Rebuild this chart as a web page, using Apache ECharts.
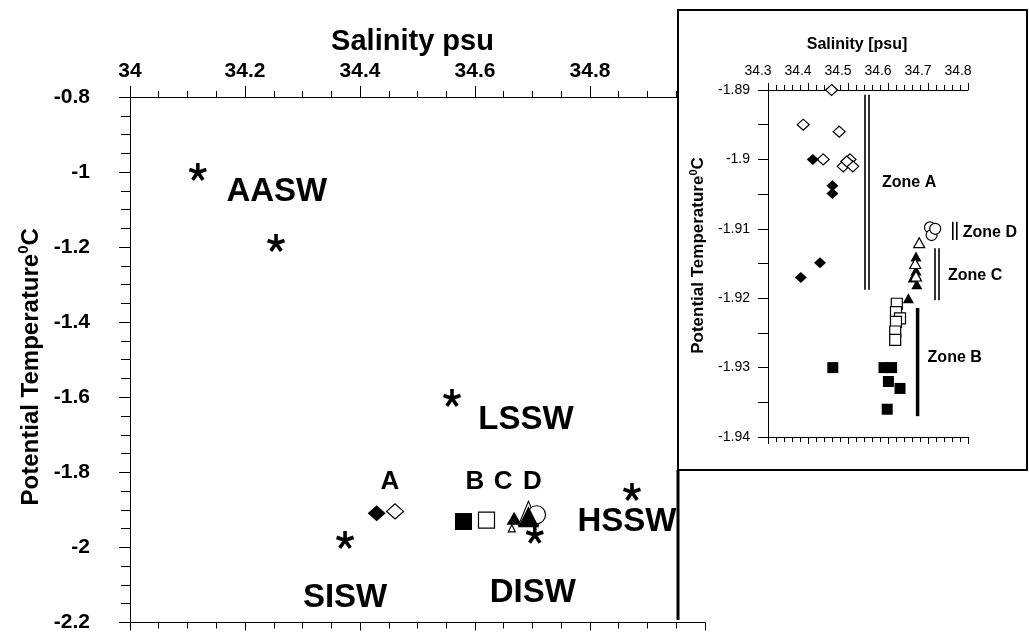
<!DOCTYPE html>
<html>
<head>
<meta charset="utf-8">
<script src="https://cdn.jsdelivr.net/npm/echarts@6/dist/echarts.min.js"></script>
<style>
  html, body { margin: 0; padding: 0; background: #fff; }
  #chart { width: 1029px; height: 633px; }
</style>
</head>
<body>
<div id="chart"></div>
<script>
// ---------- Main panel: theta-S of the water masses ----------
const waterMassNames = ['AASW', '', 'LSSW', 'SISW', 'DISW', 'HSSW'];
const waterMassSalinity = [34.118, 34.254, 34.56, 34.374, 34.704, 34.873];
const waterMassTemp = [-1.0, -1.189, -1.602, -1.98, -1.966, -1.852];

// zone means plotted in the main panel
const meanAFilled = [[34.429, -1.909]];
const meanAOpen = [[34.461, -1.904]];
const meanBFilled = [[34.580, -1.931]];
const meanBOpen = [[34.620, -1.927]];
const meanCFilled = [[34.668, -1.922]];
const meanCOpenSmall = [[34.664, -1.949]];
const meanDOpenTri = [[34.693, -1.909]];
const meanDFilledTri = [[34.693, -1.918]];
const meanDCircle = [[34.707, -1.913]];

const zoneLetters = ['A', 'B', 'C', 'D'];
const zoneLetterSalinity = [34.452, 34.600, 34.649, 34.700];
const zoneLetterTemp = -1.825;

// ---------- Inset: individual samples by zone ----------
const insetAFilled = [[34.412, -1.900], [34.461, -1.9038], [34.461, -1.9049], [34.430, -1.9149], [34.382, -1.917]];
const insetAOpen = [[34.459, -1.890], [34.388, -1.895], [34.478, -1.896], [34.438, -1.900],
                    [34.488, -1.901], [34.505, -1.900], [34.512, -1.901], [34.497, -1.9003]];
const insetBFilled = [[34.462, -1.930], [34.590, -1.930], [34.609, -1.930], [34.601, -1.932], [34.630, -1.933], [34.598, -1.936]];
const insetBOpen = [[34.622, -1.9208], [34.620, -1.922], [34.630, -1.9229], [34.620, -1.9234], [34.618, -1.9248], [34.618, -1.926]];
const insetCFilled = [[34.670, -1.914], [34.668, -1.9165], [34.670, -1.916], [34.663, -1.917], [34.672, -1.918], [34.651, -1.920]];
const insetCOpen = [[34.678, -1.912], [34.668, -1.915], [34.670, -1.9168]];
const insetDOpen = [[34.705, -1.9098], [34.709, -1.9109], [34.718, -1.9100]];

// zone brackets in the inset (salinity, top temp, bottom temp, label temp)
const zoneNames = ['Zone A', 'Zone B', 'Zone C', 'Zone D'];
const zoneLineSalinity = [34.5475, 34.674, 34.7225, 34.767];
const zoneLineTop = [-1.8907, -1.9214, -1.9128, -1.909];
const zoneLineBottom = [-1.9188, -1.937, -1.9203, -1.9116];
const zoneLabelTemp = [-1.9034, -1.9285, -1.9167, -1.9106];

// ---------- layout ----------
const FONT = '"Liberation Sans", Arial, Helvetica, sans-serif';
const wmLabelOffset = [[79, 20], [0, 0], [74, 22], [0, 58], [-2, 58], [-5, 30]];
const zoneDouble = [true, false, true, true];
const zoneLabelGap = [15, 10, 11, 8];

function asteriskPath() {
  const r = 50, hw = 10, parts = [];
  for (let k = 0; k < 5; k++) {
    const t = k * 72 * Math.PI / 180;
    const dx = Math.sin(t), dy = -Math.cos(t), px = Math.cos(t), py = Math.sin(t);
    const pts = [
      [50 + px * hw, 50 + py * hw],
      [50 + px * hw + dx * r, 50 + py * hw + dy * r],
      [50 - px * hw + dx * r, 50 - py * hw + dy * r],
      [50 - px * hw, 50 - py * hw]
    ];
    parts.push('M' + pts.map(p => p[0].toFixed(2) + ' ' + p[1].toFixed(2)).join(' L') + ' Z');
  }
  return 'path://' + parts.join(' ');
}
const ASTERISK = asteriskPath();

const black = '#000';
const filled = { color: black, opacity: 1 };
const open = { color: '#fff', borderColor: black, borderWidth: 1.2, opacity: 1 };

function scatter(data, symbol, size, style, xi, yi, z) {
  return { type: 'scatter', xAxisIndex: xi, yAxisIndex: yi, data: data, symbol: symbol,
           symbolSize: size, itemStyle: style, z: z, silent: true, animation: false };
}

const axisLineBlack = { show: true, lineStyle: { color: black, width: 1 } };

const option = {
  animation: false,
  backgroundColor: '#fff',
  textStyle: { fontFamily: FONT },
  grid: [
    { left: 130, top: 97, width: 575, height: 526 },
    { left: 768, top: 90, width: 200, height: 347, z: 6 }
  ],
  graphic: [
    { type: 'rect', z: 5, shape: { x: 678, y: 10, width: 349, height: 460 },
      style: { fill: '#fff', stroke: black, lineWidth: 2 } },
    { type: 'line', z: 5, shape: { x1: 678, y1: 470, x2: 678, y2: 620 },
      style: { stroke: black, lineWidth: 3 } }
  ],
  xAxis: [
    { // main, top
      gridIndex: 0, type: 'value', position: 'top', min: 34, max: 35, interval: 0.2,
      name: 'Salinity psu', nameLocation: 'middle', nameGap: 40,
      nameTextStyle: { fontSize: 29, fontWeight: 'bold', color: black, fontFamily: FONT, padding: [0, 10, 0, 0] },
      axisLine: axisLineBlack,
      axisTick: { show: true, inside: false, length: 11, lineStyle: { color: black } },
      minorTick: { show: true, splitNumber: 4, length: 6, lineStyle: { color: black } },
      axisLabel: { fontSize: 21, fontWeight: 'bold', color: black, margin: 15, fontFamily: FONT },
      splitLine: { show: false }, minorSplitLine: { show: false }
    },
    { // main, bottom
      gridIndex: 0, type: 'value', position: 'bottom', min: 34, max: 35, interval: 0.2,
      axisLine: axisLineBlack,
      axisTick: { show: true, inside: false, length: 8, lineStyle: { color: black } },
      minorTick: { show: true, splitNumber: 4, length: 6, lineStyle: { color: black } },
      axisLabel: { show: false },
      splitLine: { show: false }
    },
    { // inset, top
      gridIndex: 1, type: 'value', position: 'top', min: 34.3, max: 34.8, interval: 0.1, z: 6,
      name: 'Salinity [psu]', nameLocation: 'middle', nameGap: 37,
      nameTextStyle: { fontSize: 16, fontWeight: 'bold', color: black, fontFamily: FONT, padding: [0, 22, 0, 0] },
      axisLine: axisLineBlack,
      axisTick: { show: true, inside: false, length: 7, lineStyle: { color: black } },
      minorTick: { show: true, splitNumber: 5, length: 5, lineStyle: { color: black } },
      axisLabel: { fontSize: 14, color: black, margin: 12, fontFamily: FONT, padding: [0, 20, 0, 0] },
      splitLine: { show: false }
    },
    { // inset, bottom
      gridIndex: 1, type: 'value', position: 'bottom', min: 34.3, max: 34.8, interval: 0.1, z: 6,
      axisLine: axisLineBlack,
      axisTick: { show: true, inside: false, length: 7, lineStyle: { color: black } },
      minorTick: { show: true, splitNumber: 5, length: 5, lineStyle: { color: black } },
      axisLabel: { show: false },
      splitLine: { show: false }
    }
  ],
  yAxis: [
    { // main
      gridIndex: 0, type: 'value', min: -2.2, max: -0.8, interval: 0.2,
      name: 'Potential Temperature{sup|0}C', nameLocation: 'middle', nameGap: 80, nameRotate: 90,
      nameTextStyle: {
        fontSize: 24, fontWeight: 'bold', color: black, fontFamily: FONT, padding: [0, 14, 0, 0],
        rich: { sup: { fontSize: 15, fontWeight: 'bold', color: black, fontFamily: FONT, padding: [0, 0, 14, 0] } }
      },
      axisLine: axisLineBlack,
      axisTick: { show: true, inside: false, length: 11, lineStyle: { color: black } },
      minorTick: { show: true, splitNumber: 4, length: 9, lineStyle: { color: black } },
      axisLabel: { fontSize: 21, fontWeight: 'bold', color: black, margin: 40, fontFamily: FONT },
      splitLine: { show: false }
    },
    { // inset
      gridIndex: 1, type: 'value', min: -1.94, max: -1.89, interval: 0.01, z: 6,
      name: 'Potential Temperature{sup|0}C', nameLocation: 'middle', nameGap: 59, nameRotate: 90,
      nameTextStyle: {
        fontSize: 17, fontWeight: 'bold', color: black, fontFamily: FONT, padding: [0, 0, 0, 16],
        rich: { sup: { fontSize: 11, fontWeight: 'bold', color: black, fontFamily: FONT, padding: [0, 0, 10, 0] } }
      },
      axisLine: axisLineBlack,
      axisTick: { show: true, inside: false, length: 10, lineStyle: { color: black } },
      minorTick: { show: true, splitNumber: 2, length: 10, lineStyle: { color: black } },
      axisLabel: { fontSize: 14, color: black, margin: 18, fontFamily: FONT },
      splitLine: { show: false }
    }
  ],
  series: [
    // water masses with asterisks and names
    {
      type: 'scatter', xAxisIndex: 0, yAxisIndex: 0, z: 2, silent: true,
      symbol: ASTERISK, symbolSize: 18, itemStyle: { color: black, opacity: 1 },
      data: waterMassNames.map((n, i) => ({
        name: n, value: [waterMassSalinity[i], waterMassTemp[i]],
        label: { offset: wmLabelOffset[i] }
      })),
      label: {
        show: true, position: 'inside', formatter: p => p.name,
        fontSize: 33, fontWeight: 'bold', color: black, fontFamily: FONT
      }
    },
    // zone letters above the means
    {
      type: 'scatter', xAxisIndex: 0, yAxisIndex: 0, z: 2, silent: true,
      symbol: 'circle', symbolSize: 0, itemStyle: { opacity: 1 },
      data: zoneLetters.map((n, i) => ({ name: n, value: [zoneLetterSalinity[i], zoneLetterTemp] })),
      label: {
        show: true, position: 'inside', formatter: p => p.name,
        fontSize: 26, fontWeight: 'bold', color: black, fontFamily: FONT
      }
    },
    scatter(meanAFilled, 'diamond', [18, 16], filled, 0, 0, 3),
    scatter(meanAOpen, 'diamond', [17, 15], open, 0, 0, 3),
    scatter(meanBFilled, 'rect', [17, 17], filled, 0, 0, 3),
    scatter(meanBOpen, 'rect', [16, 16], open, 0, 0, 3),
    scatter(meanCOpenSmall, 'triangle', [7, 7], open, 0, 0, 3),
    scatter(meanDOpenTri, 'triangle', [20, 24], open, 0, 0, 3),
    scatter(meanDCircle, 'circle', 18, open, 0, 0, 3),
    scatter(meanCFilled, 'triangle', [15, 13], filled, 0, 0, 4),
    scatter(meanDFilledTri, 'triangle', [21, 21], filled, 0, 0, 4),

    // inset samples
    scatter(insetAOpen, 'diamond', [12, 11], open, 2, 1, 7),
    scatter(insetAFilled, 'diamond', [12, 11], filled, 2, 1, 7),
    scatter(insetBOpen, 'rect', [11, 11], open, 2, 1, 7),
    scatter(insetBFilled, 'rect', [11, 11], filled, 2, 1, 7),
    scatter(insetDOpen, 'circle', 11, open, 2, 1, 7),
    scatter(insetCFilled, 'triangle', [11, 10], filled, 2, 1, 7),
    scatter(insetCOpen, 'triangle', [11, 10], open, 2, 1, 8),

    // zone brackets and their names
    {
      type: 'custom', xAxisIndex: 2, yAxisIndex: 1, z: 8, silent: true,
      data: zoneNames.map((n, i) => [zoneLineSalinity[i], zoneLineTop[i], zoneLineBottom[i], zoneLabelTemp[i], i]),
      renderItem: function (params, api) {
        const i = api.value(4);
        const top = api.coord([api.value(0), api.value(1)]);
        const bot = api.coord([api.value(0), api.value(2)]);
        const lab = api.coord([api.value(0), api.value(3)]);
        const children = [];
        if (zoneDouble[i]) {
          [-2, 2].forEach(d => children.push({
            type: 'line', shape: { x1: top[0] + d, y1: top[1], x2: bot[0] + d, y2: bot[1] },
            style: { stroke: black, lineWidth: 1.6 }
          }));
        } else {
          children.push({
            type: 'line', shape: { x1: top[0], y1: top[1], x2: bot[0], y2: bot[1] },
            style: { stroke: black, lineWidth: 3.5 }
          });
        }
        children.push({
          type: 'text',
          style: {
            text: zoneNames[i], x: top[0] + zoneLabelGap[i], y: lab[1],
            align: 'left', verticalAlign: 'middle',
            font: 'bold 16px ' + FONT, fill: black
          }
        });
        return { type: 'group', children: children };
      }
    }
  ]
};

const chart = echarts.init(document.getElementById('chart'), null, { renderer: 'canvas' });
chart.setOption(option);
</script>
</body>
</html>
